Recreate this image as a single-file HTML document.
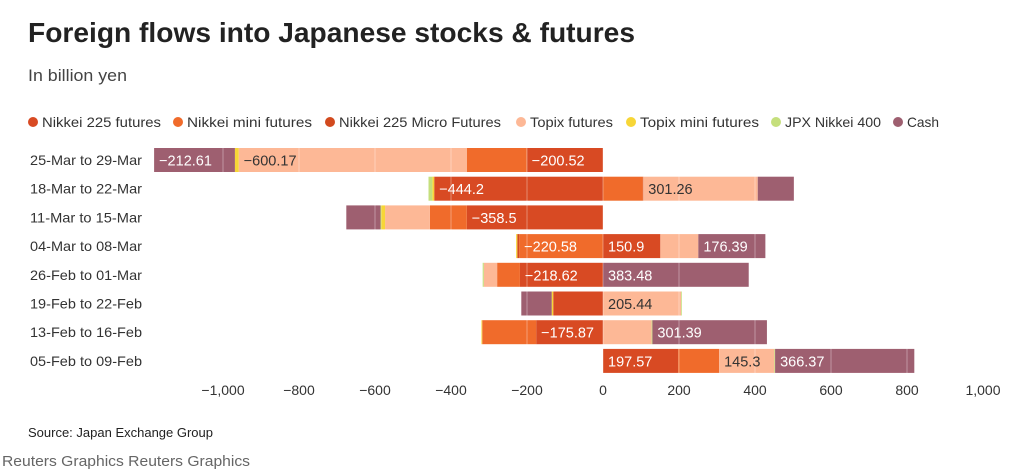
<!DOCTYPE html>
<html><head><meta charset="utf-8"><style>
body{margin:0;background:#fff;font-family:"Liberation Sans",sans-serif;}
#wrap{position:relative;width:1024px;height:476px;overflow:hidden;}
</style></head><body>
<div id="wrap">
<svg id="chart" width="1024" height="476">
<text x="28" y="42" font-size="28" font-weight="bold" fill="#222" textLength="607" lengthAdjust="spacingAndGlyphs">Foreign flows into Japanese stocks &amp; futures</text>
<text x="28" y="81" font-size="16.5" fill="#444" textLength="99" lengthAdjust="spacingAndGlyphs">In billion yen</text>
<g id="legend"></g>
<g id="bars"></g>
<g id="grid"></g>
<g id="labels"></g>
<g id="axis"></g>
<text x="28" y="437" font-size="13" fill="#222" textLength="185" lengthAdjust="spacingAndGlyphs">Source: Japan Exchange Group</text>
<text x="2" y="466" font-size="15" fill="#666" textLength="248" lengthAdjust="spacingAndGlyphs">Reuters Graphics Reuters Graphics</text>
</svg></div>
<script>
const categories=["25-Mar to 29-Mar","18-Mar to 22-Mar","11-Mar to 15-Mar","04-Mar to 08-Mar","26-Feb to 01-Mar","19-Feb to 22-Feb","13-Feb to 16-Feb","05-Feb to 09-Feb"];
const seriesNames=["Nikkei 225 futures","Nikkei mini futures","Nikkei 225 Micro Futures","Topix futures","Topix mini futures","JPX Nikkei 400","Cash"];
const colors=["#d84a23","#f06b2b","#d24a1e","#fdb896","#f7d637","#c5df7c","#9e5f70"];
const nikkei225=[-200.52,-444.2,-358.5,150.9,-218.62,-131,-175.87,197.57];
const nikkeiMini=[-158,105,-97,-220.58,-60,0,-142,108];
const nikkeiMicro=[0,1,0,-5,0,0,0,0];
const topix=[-600.17,301.26,-118,100,-35,205.44,128,145.3];
const topixMini=[-10,-5,-10,-3,0,-4,-2,0];
const jpx400=[0,-10,-2,0,-3,2,2,2];
const cash=[-212.61,95,-90,176.39,383.48,-80,301.39,366.37];
const labelled=[[1,0,0,1,0,0,1],[1,0,0,1,0,0,0],[1,0,0,0,0,0,0],[1,1,0,0,0,0,1],[1,0,0,0,0,0,1],[0,0,0,1,0,0,0],[1,0,0,0,0,0,1],[1,0,0,1,0,0,1]];
const labelText=[["−200.52","","","−600.17","","","−212.61"],["−444.2","","","301.26","","",""],["−358.5","","","","","",""],["150.9","−220.58","","","","","176.39"],["−218.62","","","","","","383.48"],["","","","205.44","","",""],["−175.87","","","","","","301.39"],["197.57","","","145.3","","","366.37"]];
const ticks=[-1000,-800,-600,-400,-200,0,200,400,600,800,1000];
const tickLabels=["−1,000","−800","−600","−400","−200","0","200","400","600","800","1,000"];
const series=[nikkei225,nikkeiMini,nikkeiMicro,topix,topixMini,jpx400,cash];
const NS="http://www.w3.org/2000/svg";
const x=v=>603+v*0.38;
const yc=i=>160+i*28.7;
const BH=24;
function mk(tag,attrs,parent){const e=document.createElementNS(NS,tag);for(const k in attrs)e.setAttribute(k,attrs[k]);parent.appendChild(e);return e;}
const gB=document.getElementById('bars'),gL=document.getElementById('labels'),gG=document.getElementById('grid'),gA=document.getElementById('axis'),gLeg=document.getElementById('legend');
const legX=[33,178,330,521,631,776,898];
const legTW=[119,125,162,83,119,96,32];
seriesNames.forEach((n,s)=>{
  const c=mk('circle',{cx:legX[s],cy:122,r:5,fill:colors[s]},gLeg);
  
  
  const t=mk('text',{x:legX[s]+9,y:127,'font-size':14,fill:'#333',textLength:legTW[s],lengthAdjust:'spacingAndGlyphs'},gLeg);t.textContent=n;
  
  
});
categories.forEach((cat,i)=>{
  const t=mk('text',{x:30,y:yc(i)+5,'font-size':14,fill:'#333',textLength:112,lengthAdjust:'spacingAndGlyphs'},gA);t.textContent=cat;
  
  
  let pos=0,neg=0;
  series.forEach((arr,s)=>{
    const v=arr[i];if(!v)return;
    let a,b;
    if(v>0){a=pos;b=pos+v;pos=b;}else{a=neg+v;b=neg;neg=a;}
    const r=mk('rect',{x:x(a),y:yc(i)-BH/2,width:x(b)-x(a),height:BH,fill:colors[s]},gB);
    
    
    if(labelled[i][s]){
      const lt=mk('text',{x:x(a)+5,y:yc(i)+5.5,'font-size':14.5,fill:(s===3?'#333':'#fff')},gL);
      lt.textContent=labelText[i][s];
      
      
    }
  });
});
ticks.forEach((tv,k)=>{
  const l=mk('line',{x1:x(tv),x2:x(tv),y1:146,y2:376,stroke:'#fff','stroke-opacity':0.35,'stroke-width':1},gG);
  
  
  const t=mk('text',{x:x(tv),y:395,'font-size':14,fill:'#333','text-anchor':'middle'},gA);t.textContent=tickLabels[k];
  
  
});
</script>
</body></html>
